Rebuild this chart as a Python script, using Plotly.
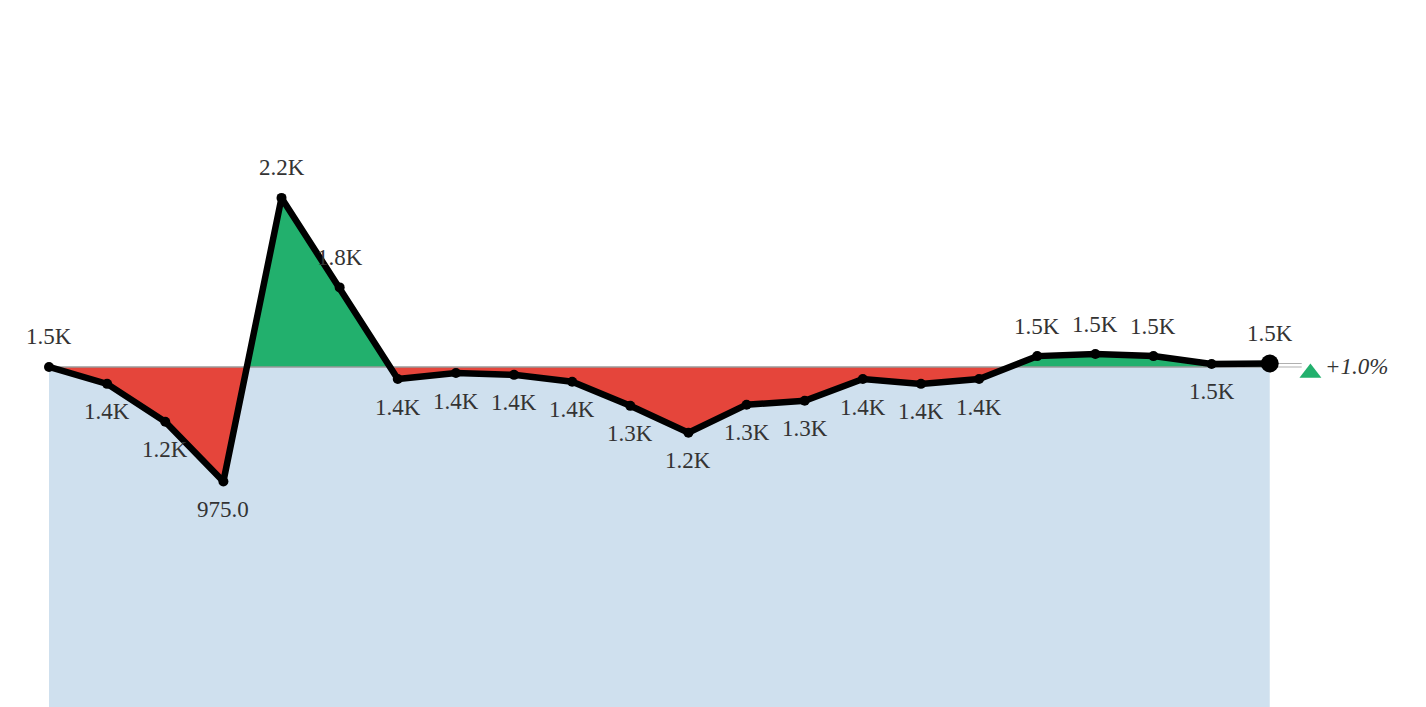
import plotly.graph_objects as go

# ---- data ----
values = [1470, 1397, 1233, 975, 2201, 1814, 1418, 1444, 1436, 1406, 1302, 1186,
          1307, 1324, 1418, 1397, 1418, 1517, 1526, 1517, 1483, 1485]
label_pos = ["top", "bottom", "bottom", "bottom", "top", "top",
             "bottom", "bottom", "bottom", "bottom", "bottom", "bottom",
             "bottom", "bottom", "bottom", "bottom", "bottom",
             "top", "top", "top", "bottom", "top"]

x = list(range(len(values)))
base = values[0]
last = values[-1]

def fmt(v):
    return f"{v/1000:.1f}K" if v >= 1000 else f"{v:.1f}"

labels = [fmt(v) for v in values]

# crossing points of series with baseline
px, py = [x[0]], [values[0]]
for i in range(len(values) - 1):
    a, b = values[i] - base, values[i + 1] - base
    if a * b < 0:
        t = a / (a - b)
        px.append(x[i] + t)
        py.append(base)
    px.append(x[i + 1])
    py.append(values[i + 1])

up = [max(v, base) for v in py]
dn = [min(v, base) for v in py]

RED = "#E5453B"
GREEN = "#22B06D"
BLUE = "#CFE0EE"
SERIF = "Liberation Serif, Times New Roman, serif"
FS = 23

fig = go.Figure()
# light blue area under baseline
fig.add_trace(go.Scatter(x=[x[0], x[-1]], y=[base, base], mode="lines",
                         line=dict(width=0), fill="tozeroy", fillcolor=BLUE,
                         hoverinfo="skip", showlegend=False))
# green region (above baseline)
fig.add_trace(go.Scatter(x=px + px[::-1], y=up + [base] * len(px), mode="lines",
                         line=dict(width=0), fill="toself", fillcolor=GREEN,
                         hoverinfo="skip", showlegend=False))
# red region (below baseline)
fig.add_trace(go.Scatter(x=px + px[::-1], y=dn + [base] * len(px), mode="lines",
                         line=dict(width=0), fill="toself", fillcolor=RED,
                         hoverinfo="skip", showlegend=False))
# baseline
fig.add_trace(go.Scatter(x=[x[0], x[-1]], y=[base, base], mode="lines",
                         line=dict(color="#9a9a9a", width=1.5),
                         hoverinfo="skip", showlegend=False))
# connector to delta marker
ext = x[-1] + 0.55
fig.add_trace(go.Scatter(x=[x[-1], ext, None, x[-1], ext], y=[last, last, None, base, base],
                         mode="lines", line=dict(color="#b0b0b0", width=1.2),
                         hoverinfo="skip", showlegend=False))
# main line
sizes = [10] * (len(values) - 1) + [18]
fig.add_trace(go.Scatter(x=x, y=values, mode="lines+markers",
                         line=dict(color="black", width=6.5),
                         marker=dict(color="black", size=sizes, opacity=1,
                                     line=dict(width=0)),
                         cliponaxis=False, showlegend=False))
# value labels
for xi, v, lab, pos in zip(x, values, labels, label_pos):
    fig.add_annotation(x=xi, y=v, text=lab, showarrow=False,
                       yshift=30 if pos == "top" else -28,
                       font=dict(family=SERIF, size=FS, color="#333333"))
# delta marker
dx = x[-1] + 0.70
fig.add_trace(go.Scatter(x=[dx], y=[base - 26], mode="markers",
                         marker=dict(symbol="triangle-up", size=19, color=GREEN,
                                     opacity=1, line=dict(width=0)),
                         cliponaxis=False, showlegend=False, hoverinfo="skip"))
pct = (last / base - 1) * 100
fig.add_annotation(x=dx, y=base, text=f"{pct:+.1f}%", showarrow=False,
                   xanchor="left", xshift=13,
                   font=dict(family=SERIF, size=FS, color="#333333", style="italic"))

fig.update_layout(
    width=1418, height=699,
    margin=dict(l=41, r=40, t=0, b=0),
    paper_bgcolor="white", plot_bgcolor="white",
    xaxis=dict(range=[x[0], x[-1] + 2], visible=False),
    yaxis=dict(range=[0, 3022], visible=False),
)
fig.write_html("out.html")
